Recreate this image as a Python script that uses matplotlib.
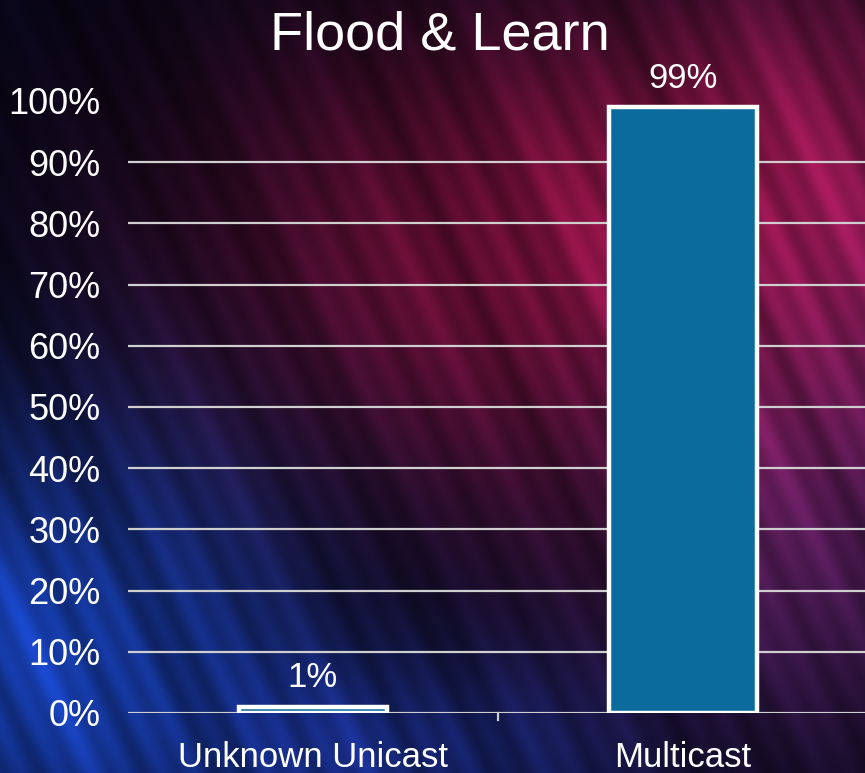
import matplotlib
matplotlib.use('Agg')
import matplotlib.pyplot as plt
import numpy as np

# data
categories = ['Unknown Unicast', 'Multicast']
shares = [0.01, 0.99]
value_labels = ['1%', '99%']
yticks = [0.0, 0.1, 0.2, 0.3, 0.4, 0.5, 0.6, 0.7, 0.8, 0.9, 1.0]
ytick_labels = ['0%', '10%', '20%', '30%', '40%', '50%', '60%', '70%', '80%', '90%', '100%']
title = 'Flood & Learn'

plt.rcParams['font.family'] = ['Liberation Sans', 'DejaVu Sans']

W, H = 865, 773
fig = plt.figure(figsize=(W / 100, H / 100), dpi=100)


def blob(xx, yy, cx, cy, sx, sy):
    return np.exp(-(((xx - cx) / sx) ** 2 + ((yy - cy) / sy) ** 2))


# background: dark navy with a red glow top/right and blue streaks bottom left
yy, xx = np.mgrid[0:H, 0:W].astype(float)
img = np.zeros((H, W, 3))
img[:] = np.array([6, 6, 22]) / 255.0
red = blob(xx, yy, 520, 250, 320, 240)
red2 = blob(xx, yy, 820, 180, 220, 260)
purple = blob(xx, yy, 820, 520, 230, 230)
blue = blob(xx, yy, 40, 640, 250, 230)
blue2 = blob(xx, yy, 400, 760, 240, 110)
img += red[..., None] * np.array([100, 8, 30]) / 255.0
img += red2[..., None] * np.array([95, 12, 40]) / 255.0
img += purple[..., None] * np.array([60, 20, 60]) / 255.0
img += blue[..., None] * np.array([15, 55, 150]) / 255.0
img += blue2[..., None] * np.array([15, 30, 90]) / 255.0
# faint steep diagonal streaks (upper left to lower right)
u = xx * np.sin(np.radians(65)) - yy * np.cos(np.radians(65))
streak = (np.sin(u / 5.0) + np.sin(u / 13.3 + 1.0) + np.sin(u / 37.0 + 2.0)) / 3.0
img *= (0.9 + 0.3 * streak)[..., None]
img = np.clip(img, 0, 1)

bg = fig.add_axes([0, 0, 1, 1], zorder=-1)
bg.imshow(img, aspect='auto', extent=[0, 1, 0, 1])
bg.set_axis_off()

ax = fig.add_axes([128 / W, 60 / H, 740 / W, 612 / H])
ax.set_facecolor('none')
x = np.arange(len(categories))
bars = ax.bar(x, shares, width=0.4, color='#0a6b9c', edgecolor='white',
              linewidth=3.2, zorder=3)

for b, lab in zip(bars, value_labels):
    ax.annotate(lab, (b.get_x() + b.get_width() / 2, b.get_height()),
                xytext=(0, 9), textcoords='offset points', ha='center',
                va='bottom', color='white', fontsize=25)

ax.set_xlim(-0.5, 1.5)
ax.set_ylim(0, 1.0)
ax.set_yticks(yticks)
ax.set_yticklabels(ytick_labels, fontsize=26, color='white')
ax.set_xticks(x)
ax.set_xticklabels(categories, fontsize=25, color='white')
ax.tick_params(axis='y', length=0, pad=20)
ax.tick_params(axis='x', length=0, pad=20)

for t in yticks[:-1]:
    ax.axhline(t, color='#cfcfcf', linewidth=1.6, zorder=1)
# divider tick between categories
ax.plot([0.5, 0.5], [0, -0.012], color='#cfcfcf', linewidth=1.6,
        clip_on=False)

for s in ax.spines.values():
    s.set_visible(False)

fig.text(440 / W, 1 - 35 / H, title, ha='center', va='center',
         color='white', fontsize=39)

fig.savefig('out.png', dpi=100)
